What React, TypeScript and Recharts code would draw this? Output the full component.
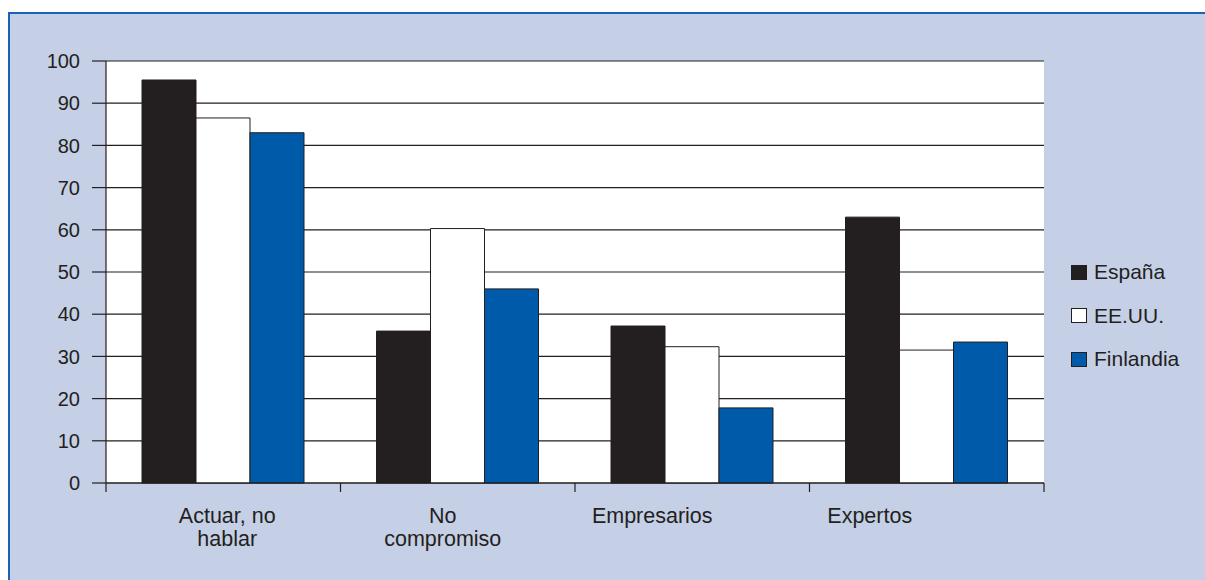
import React from 'react';
import { BarChart, Bar, XAxis, YAxis, CartesianGrid } from 'recharts';

const CATEGORIES = ['Actuar, no\nhablar', 'No\ncompromiso', 'Empresarios', 'Expertos'];
const ESPANA = [95.5, 36, 37.2, 63];
const EEUU = [86.5, 60.3, 32.3, 31.5];
const FINLANDIA = [83, 46, 17.8, 33.4];
const Y_TICKS = [0, 10, 20, 30, 40, 50, 60, 70, 80, 90, 100];
const SERIES_NAMES = ['España', 'EE.UU.', 'Finlandia'];
const SERIES_KEYS = ['espana', 'eeuu', 'finlandia'];

// styles
const COLORS = ['#231f20', '#ffffff', '#005aaa'];
const INK = '#231f20';
const PANEL_BG = '#c5cfe6';
const PANEL_BORDER = '#1a62b8';
const FONT = '"Liberation Sans", Arial, Helvetica, sans-serif';
const LABEL_DX = [4, -15, -40, -57];

const data = CATEGORIES.map((c, i) => ({
  category: c,
  espana: ESPANA[i],
  eeuu: EEUU[i],
  finlandia: FINLANDIA[i],
}));

const W = 1205;
const H = 580;
const MARGIN = { top: 61, right: 161, bottom: 37, left: 46 };
const Y_WIDTH = 60;

const XTick = (props: any) => {
  const { x, y, payload, index } = props;
  const plotW = W - MARGIN.left - MARGIN.right - Y_WIDTH;
  const half = payload && typeof payload.offset === 'number' && payload.offset > 0
    ? payload.offset
    : plotW / CATEGORIES.length / 2;
  const lines = String(payload.value).split('\n');
  const cx = x + (LABEL_DX[index] || 0);
  const isLast = index === CATEGORIES.length - 1;
  return (
    <g>
      <line x1={x - half} x2={x - half} y1={y} y2={y + 9} stroke={INK} strokeWidth={1.2} />
      {isLast && <line x1={x + half} x2={x + half} y1={y} y2={y + 9} stroke={INK} strokeWidth={1.2} />}
      <text x={cx} y={y} textAnchor="middle" fill={INK} fontSize={21.5} fontFamily={FONT}>
        {lines.map((l, i) => (
          <tspan key={i} x={cx} dy={i === 0 ? 39.5 : 23}>{l}</tspan>
        ))}
      </text>
    </g>
  );
};

export default function App() {
  return (
    <div style={{ position: 'fixed', left: 0, top: 0, width: W, height: H, overflow: 'hidden', fontFamily: FONT }}>
      <div
        style={{
          position: 'absolute',
          left: 8,
          top: 12,
          right: 0,
          bottom: 0,
          background: PANEL_BG,
          borderTop: `2px solid ${PANEL_BORDER}`,
          borderLeft: `2px solid ${PANEL_BORDER}`,
        }}
      />
      <div style={{ position: 'absolute', left: 0, top: 0 }}>
        <BarChart
          width={W}
          height={H}
          data={data}
          margin={MARGIN}
          barCategoryGap={36}
          barGap={0}
          style={{ fontFamily: FONT }}
        >
          <CartesianGrid vertical={false} stroke={INK} strokeWidth={1.2} fill="#ffffff" fillOpacity={1} />
          <XAxis
            dataKey="category"
            height={60}
            interval={0}
            tickSize={0}
            tickMargin={0}
            tickLine={false}
            axisLine={{ stroke: INK, strokeWidth: 1.2 }}
            tick={<XTick />}
          />
          <YAxis
            domain={[0, 100]}
            ticks={Y_TICKS}
            width={Y_WIDTH}
            tickSize={14}
            tickMargin={12}
            tickLine={{ stroke: INK, strokeWidth: 1.2 }}
            axisLine={{ stroke: INK, strokeWidth: 1.2 }}
            tick={{ fill: INK, fontSize: 20, fontFamily: FONT }}
            interval={0}
          />
          <YAxis
            yAxisId="r"
            orientation="right"
            domain={[0, 100]}
            width={0}
            tick={false}
            tickLine={false}
            axisLine={{ stroke: INK, strokeWidth: 1.2 }}
          />
          {SERIES_KEYS.map((k, i) => (
            <Bar
              key={k}
              dataKey={k}
              name={SERIES_NAMES[i]}
              fill={COLORS[i]}
              stroke={INK}
              strokeWidth={1}
              isAnimationActive={false}
            />
          ))}
        </BarChart>
      </div>
      {SERIES_NAMES.map((n, i) => (
        <div
          key={n}
          style={{
            position: 'absolute',
            left: 1071,
            top: 260 + i * 43.5,
            height: 24,
            display: 'flex',
            alignItems: 'center',
          }}
        >
          <div
            style={{
              width: 16,
              height: 15,
              boxSizing: 'border-box',
              background: COLORS[i],
              border: `1px solid ${INK}`,
              marginRight: 7,
            }}
          />
          <span style={{ fontSize: 21, color: INK, fontFamily: FONT, lineHeight: '24px' }}>{n}</span>
        </div>
      ))}
    </div>
  );
}
